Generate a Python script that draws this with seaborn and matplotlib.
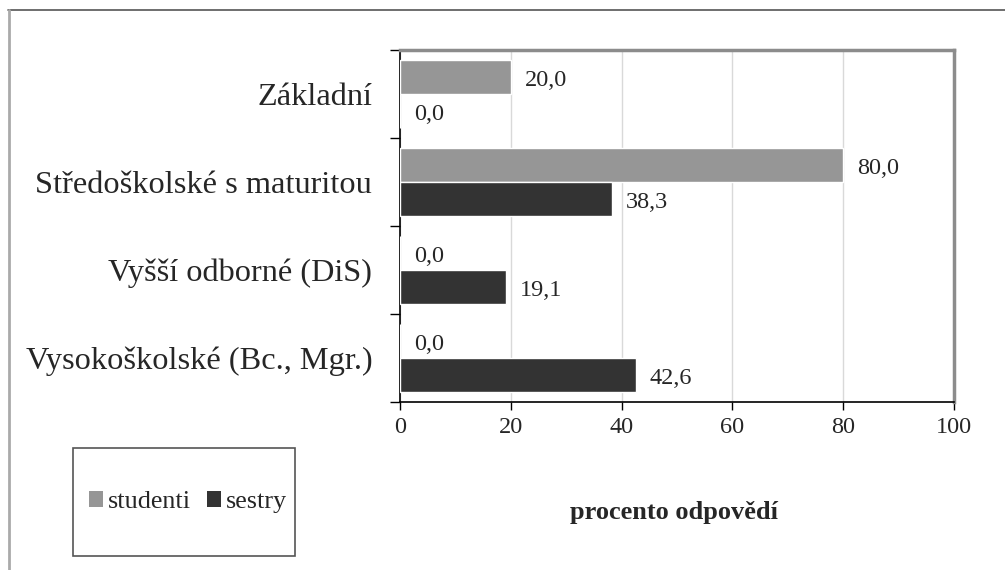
import pandas as pd
import matplotlib.pyplot as plt
import seaborn as sns
from matplotlib.patches import Patch, Rectangle
from matplotlib.lines import Line2D

# data
kategorie = ["Základní", "Středoškolské s maturitou", "Vyšší odborné (DiS)", "Vysokoškolské (Bc., Mgr.)"]
studenti = [20.0, 80.0, 0.0, 0.0]
sestry = [0.0, 38.3, 19.1, 42.6]
skupiny = ["studenti", "sestry"]
barvy = ["#969696", "#333333"]
x_ticks = [0, 20, 40, 60, 80, 100]

df = pd.DataFrame({
    "vzdelani": kategorie * 2,
    "skupina": [skupiny[0]] * len(kategorie) + [skupiny[1]] * len(kategorie),
    "procento": studenti + sestry,
})

sns.set_style("white")
plt.rcParams['font.family'] = ['Liberation Serif', 'DejaVu Serif']

fig = plt.figure(figsize=(10.05, 5.7), dpi=100)
ax = fig.add_axes([400 / 1005, 1 - 402 / 570, 554 / 1005, 352 / 570])

sns.barplot(data=df, x="procento", y="vzdelani", hue="skupina", hue_order=skupiny,
            palette=barvy, orient="h", width=0.78, ax=ax, legend=False,
            saturation=1, zorder=3)

# popisky hodnot
for cont in ax.containers:
    vals = [b.get_width() for b in cont]
    anns = ax.bar_label(cont, labels=[f"{v:.1f}".replace(".", ",") for v in vals],
                        padding=10, fontsize=17.5)
    for a in anns:
        a.xyann = (10, -2.5)

ax.set_xlim(0, 100)
ax.set_ylim(3.5, -0.5)
ax.set_xticks(x_ticks)
ax.set_xticklabels([str(t) for t in x_ticks], fontsize=17.5)
ax.tick_params(axis="x", direction="out", length=6, width=1, color="black", pad=5, bottom=True)
ax.tick_params(axis="y", which="major", length=0, pad=20, labelsize=23.3)
ax.set_yticks([-0.5, 0.5, 1.5, 2.5, 3.5], minor=True)
ax.tick_params(axis="y", which="minor", direction="out", length=7, width=1, color="black", left=True)
ax.set_xlabel("")
ax.set_ylabel("")

ax.grid(axis="x", color="#d9d9d9", linewidth=1, zorder=0)
ax.grid(axis="y", visible=False)
ax.set_axisbelow(True)

for s in ["left", "bottom"]:
    ax.spines[s].set_color("black")
    ax.spines[s].set_linewidth(1.2)
for s in ["top", "right"]:
    ax.spines[s].set_color("#8c8c8c")
    ax.spines[s].set_linewidth(2.5)

fig.text(674 / 1005, 1 - 512 / 570, "procento odpovědí", fontsize=19,
         fontweight="bold", ha="center", va="center")

# legenda
fig.patches.append(Rectangle((73 / 1005, 1 - 556 / 570), 222 / 1005, 108 / 570,
                             transform=fig.transFigure, fill=False,
                             edgecolor="#555555", linewidth=1.2))
handles = [Patch(facecolor=c, edgecolor="none") for c in barvy]
fig.legend(handles, skupiny, loc="center", bbox_to_anchor=(188 / 1005, 1 - 502 / 570),
           ncol=2, frameon=False, fontsize=18.8, handlelength=0.55, handleheight=0.55,
           handletextpad=0.2, columnspacing=0.6)

# vnější rámeček
fig.add_artist(Line2D([8 / 1005, 1], [1 - 10 / 570, 1 - 10 / 570],
                      transform=fig.transFigure, color="#555555", linewidth=1.2))
fig.add_artist(Line2D([8.5 / 1005, 8.5 / 1005], [0, 1 - 10 / 570],
                      transform=fig.transFigure, color="#aaaaaa", linewidth=2))

fig.savefig("out.png", dpi=100)
